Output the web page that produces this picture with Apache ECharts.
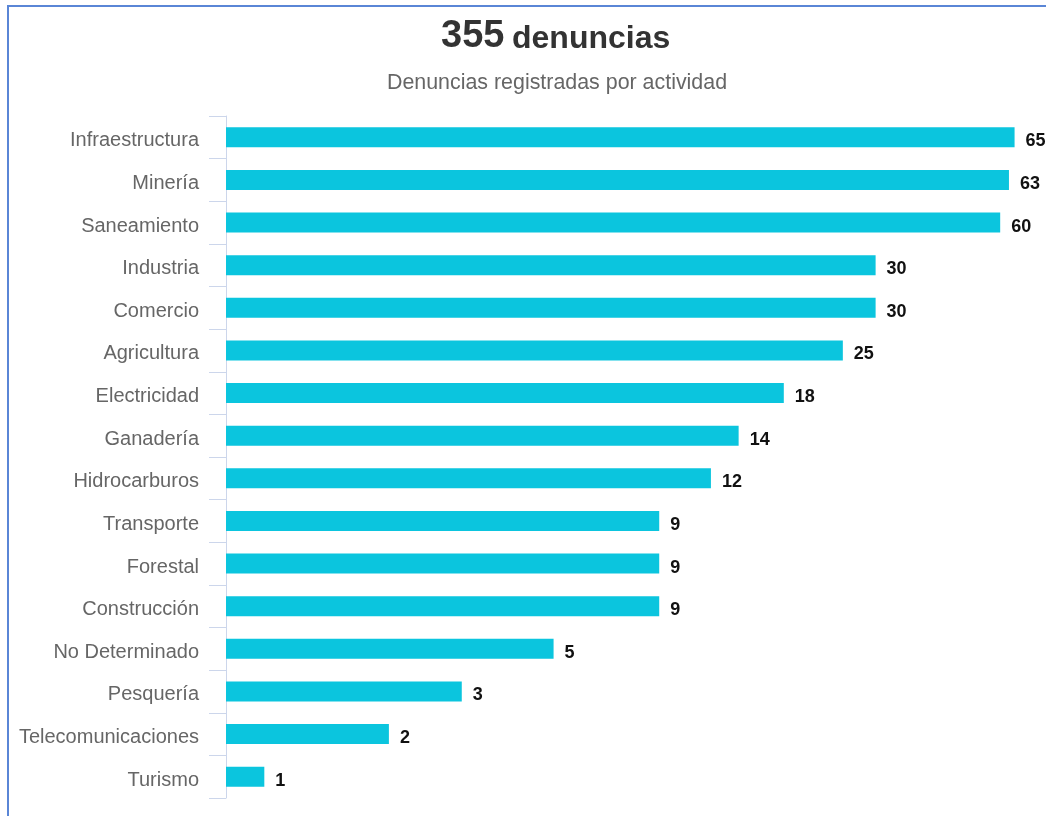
<!DOCTYPE html>
<html>
<head>
<meta charset="utf-8">
<script src="https://cdn.jsdelivr.net/npm/echarts@6/dist/echarts.min.js"></script>
<style>
  html, body { margin: 0; padding: 0; background: #fff; }
  #chart { width: 1046px; height: 816px; }
  #frame { position: absolute; left: 7px; top: 5px; right: -10px; bottom: -10px;
           border-left: 2px solid #5a86d6; border-top: 2px solid #5a86d6; pointer-events: none; }
</style>
</head>
<body>
<div id="chart"></div>
<div id="frame"></div>
<script>
const categories = ['Infraestructura', 'Minería', 'Saneamiento', 'Industria', 'Comercio', 'Agricultura',
  'Electricidad', 'Ganadería', 'Hidrocarburos', 'Transporte', 'Forestal', 'Construcción',
  'No Determinado', 'Pesquería', 'Telecomunicaciones', 'Turismo'];
const denuncias = [65, 63, 60, 30, 30, 25, 18, 14, 12, 9, 9, 9, 5, 3, 2, 1];
const totalDenuncias = '355';
const titleText = 'denuncias';
const subtitleText = 'Denuncias registradas por actividad';
const xMin = 0.808;
const xMax = 100;

const FONT = '"Liberation Sans", Arial, Helvetica, sans-serif';
const BAR_COLOR = '#0bc5de';

const chart = echarts.init(document.getElementById('chart'), null, { renderer: 'canvas' });
chart.setOption({
  animation: false,
  title: [
    {
      text: totalDenuncias,
      left: 441, top: 17, padding: 0, textAlign: 'left',
      textStyle: { fontFamily: FONT, fontSize: 38, fontWeight: 'bold', color: '#333', lineHeight: 40 }
    },
    {
      text: titleText,
      left: 512, top: 19, padding: 0, textAlign: 'left',
      textStyle: { fontFamily: FONT, fontSize: 32, fontWeight: 'bold', color: '#333', lineHeight: 40 }
    },
    {
      text: subtitleText,
      left: 557, top: 71, padding: 0, textAlign: 'center',
      textStyle: { fontFamily: FONT, fontSize: 21.4, fontWeight: 'normal', color: '#666', lineHeight: 24 }
    }
  ],
  grid: { left: 226, top: 116, width: 866, height: 682, containLabel: false, outerBoundsMode: 'none' },
  xAxis: {
    type: 'log', logBase: 10, min: xMin, max: xMax,
    show: false, splitLine: { show: false }
  },
  yAxis: {
    type: 'category', inverse: true, data: categories,
    axisLine: { show: true, lineStyle: { color: '#ccd6eb', width: 1 } },
    axisTick: { show: true, length: 17, lineStyle: { color: '#ccd6eb', width: 1 } },
    axisLabel: { fontFamily: FONT, fontSize: 20, color: '#666', margin: 27, verticalAlign: 'top', lineHeight: 7 },
    splitLine: { show: false }
  },
  series: [{
    type: 'custom',
    clip: false,
    data: denuncias.map((v, i) => [v, i]),
    encode: { x: 0, y: 1 },
    renderItem: function (params, api) {
      const v = api.value(0);
      const c = api.value(1);
      const end = api.coord([v, c]);
      const start = api.coord([xMin, c]);
      const h = 20;
      return {
        type: 'group',
        children: [
          { type: 'rect',
            shape: { x: start[0], y: end[1] - h / 2, width: end[0] - start[0], height: h },
            style: { fill: BAR_COLOR } },
          { type: 'text',
            style: { text: String(v), x: end[0] + 11, y: end[1] + 4, align: 'left', verticalAlign: 'middle',
                     fontFamily: FONT, fontSize: 18, fontWeight: 'bold', fill: '#111' } }
        ]
      };
    }
  }]
});
</script>
</body>
</html>
